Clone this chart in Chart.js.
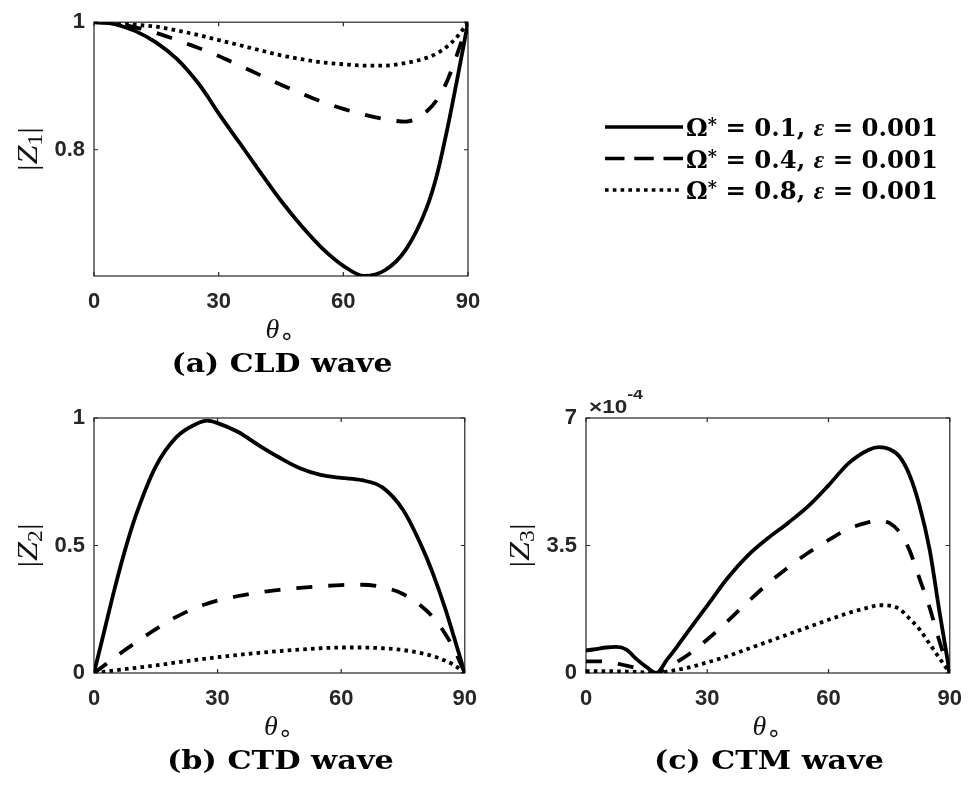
<!DOCTYPE html>
<html>
<head>
<meta charset="utf-8">
<script src="https://cdn.jsdelivr.net/npm/chart.js@4.4.0/dist/chart.umd.min.js"></script>
<style>
  html, body { margin: 0; padding: 0; background: #fff; }
  body { width: 975px; height: 785px; position: relative; overflow: hidden; }
  canvas { position: absolute; }
</style>
</head>
<body>
<canvas id="cld" width="975" height="390" style="left:0;top:0"></canvas>
<canvas id="ctd" width="490" height="395" style="left:0;top:390px"></canvas>
<canvas id="ctm" width="485" height="395" style="left:490px;top:390px"></canvas>
<script>
// incidence angle (deg) for the CLD / CTD panels
const anglesAB = [0, 2.5, 5, 7.5, 10, 15, 20, 25, 27.5, 30, 35, 40, 45, 50, 55, 60, 65, 70, 75, 80, 82.5, 85, 87.5, 90];
// |Z1|, CLD wave
const cldW1 = [1, 0.9992, 0.997, 0.992, 0.986, 0.968, 0.942, 0.905, 0.882, 0.857, 0.811, 0.765, 0.72, 0.68, 0.645, 0.618, 0.602, 0.611, 0.643, 0.708, 0.76, 0.832, 0.914, 1];
const cldW4 = [1, 0.9995, 0.998, 0.995, 0.992, 0.983, 0.972, 0.96, 0.954, 0.947, 0.932, 0.917, 0.902, 0.888, 0.875, 0.864, 0.855, 0.848, 0.844, 0.86, 0.878, 0.908, 0.952, 1];
const cldW8 = [1, 0.9998, 0.999, 0.998, 0.996, 0.993, 0.987, 0.98, 0.976, 0.972, 0.964, 0.956, 0.948, 0.942, 0.937, 0.934, 0.932, 0.932, 0.936, 0.944, 0.951, 0.962, 0.978, 1];
// |Z2|, CTD wave
const ctdW1 = [0, 0.165, 0.33, 0.48, 0.61, 0.81, 0.925, 0.978, 0.99, 0.98, 0.945, 0.893, 0.845, 0.803, 0.777, 0.765, 0.756, 0.728, 0.64, 0.48, 0.38, 0.265, 0.135, 0];
const ctdW4 = [0, 0.03, 0.06, 0.09, 0.118, 0.172, 0.22, 0.258, 0.272, 0.284, 0.302, 0.316, 0.326, 0.334, 0.34, 0.345, 0.346, 0.337, 0.31, 0.255, 0.215, 0.16, 0.09, 0];
const ctdW8 = [0, 0.005, 0.01, 0.015, 0.02, 0.03, 0.041, 0.052, 0.057, 0.062, 0.071, 0.079, 0.086, 0.092, 0.097, 0.1, 0.1, 0.097, 0.09, 0.076, 0.065, 0.05, 0.03, 0];
// |Z3|, CTM wave, in units of 1e-4
const anglesC = [0, 2.5, 5, 7.5, 10, 12.5, 15, 17.4, 20, 22.5, 25, 30, 35, 40, 45, 50, 55, 60, 65, 70, 72.5, 75, 77.5, 80, 82.5, 85, 87.5, 90];
const ctmW1 = [0.62, 0.655, 0.7, 0.715, 0.64, 0.38, 0.16, 0, 0.36, 0.72, 1.1, 1.85, 2.6, 3.22, 3.7, 4.12, 4.58, 5.15, 5.76, 6.13, 6.2, 6.15, 5.95, 5.45, 4.6, 3.4, 1.65, 0];
const ctmW4 = [0.32, 0.32, 0.31, 0.265, 0.2, 0.14, 0.075, 0, 0.13, 0.3, 0.48, 0.92, 1.42, 1.95, 2.45, 2.9, 3.3, 3.65, 3.96, 4.14, 4.18, 4.12, 3.88, 3.38, 2.6, 1.8, 0.85, 0];
const ctmW8 = [0.05, 0.05, 0.05, 0.045, 0.04, 0.03, 0.015, 0, 0.04, 0.085, 0.14, 0.29, 0.46, 0.66, 0.86, 1.06, 1.26, 1.46, 1.65, 1.8, 1.86, 1.85, 1.76, 1.5, 1.2, 0.8, 0.4, 0];

const xTicks = [0, 30, 60, 90];
const cldYTicks = [0.8, 1];
const ctdYTicks = [0, 0.5, 1];
const ctmYTicks = [0, 3.5, 7];
const omegaValues = ['0.1', '0.4', '0.8'];
const epsilonValue = '0.001';

const AXIS_COLOR = '#262626';
const TICK_LEN = 4;
const TICK_FONT = { family: '"Liberation Sans", Arial, sans-serif', size: 22, weight: 'bold' };
const lineWidths = [3.8, 3.8, 3.8];
const lineDashes = [[], [16, 16], [3.6, 4.2]];
const legendDashes = [[], [19.5, 9.75], [3.6, 4.2]];

// draws a row of text pieces with different fonts, optionally squeezed/stretched to a width
function drawRuns(ctx, runs, x, y, width, align) {
  let w = 0;
  runs.forEach(r => { ctx.font = r.font; r.w = ctx.measureText(r.t).width; w += r.w; });
  const sx = width ? width / w : 1;
  ctx.save();
  ctx.translate(align === 'left' ? x : x - w * sx / 2, y);
  ctx.scale(sx, 1);
  let cx = 0;
  runs.forEach(r => {
    ctx.font = r.font;
    ctx.fillText(r.t, cx, r.dy || 0);
    cx += r.w;
  });
  ctx.restore();
}

function drawLegend(ctx) {
  const x0 = 605, x1 = 683, top = 127, step = 31.5;
  omegaValues.forEach((om, i) => {
    const yl = top + i * step;
    ctx.save();
    ctx.strokeStyle = '#000';
    ctx.lineWidth = 3.4;
    ctx.lineCap = 'butt';
    ctx.setLineDash(legendDashes[i]);
    ctx.beginPath();
    ctx.moveTo(x0, yl);
    ctx.lineTo(x1, yl);
    ctx.stroke();
    ctx.restore();
    drawRuns(ctx, [
      { t: 'Ω', font: 'bold 25px "DejaVu Serif"' },
      { t: '*', font: 'bold 18px "DejaVu Serif"', dy: -5 },
      { t: ' = ' + om + ', ', font: 'bold 25px "DejaVu Serif"' },
      { t: 'ε', font: 'italic bold 26px "Liberation Serif"' },
      { t: ' = ' + epsilonValue, font: 'bold 25px "DejaVu Serif"' }
    ], 686, yl + 9, 252, 'left');
  });
}

const framePlugin = {
  id: 'frame',
  beforeDatasetsDraw(chart) {
    const { ctx, chartArea: a, scales: { x, y } } = chart;
    ctx.save();
    ctx.strokeStyle = AXIS_COLOR;
    ctx.lineWidth = 1.2;
    ctx.strokeRect(a.left, a.top, a.right - a.left, a.bottom - a.top);
    ctx.beginPath();
    x.ticks.forEach(t => {
      const p = x.getPixelForValue(t.value);
      ctx.moveTo(p, a.bottom); ctx.lineTo(p, a.bottom - TICK_LEN);
      ctx.moveTo(p, a.top); ctx.lineTo(p, a.top + TICK_LEN);
    });
    y.ticks.forEach(t => {
      const p = y.getPixelForValue(t.value);
      ctx.moveTo(a.left, p); ctx.lineTo(a.left + TICK_LEN, p);
      ctx.moveTo(a.right, p); ctx.lineTo(a.right - TICK_LEN, p);
    });
    ctx.stroke();
    ctx.restore();
  },
  afterDraw(chart, args, opts) {
    const { ctx, chartArea: a } = chart;
    const cx = (a.left + a.right) / 2;
    ctx.save();
    ctx.fillStyle = '#111';
    ctx.textBaseline = 'alphabetic';
    // x axis label
    drawRuns(ctx, [
      { t: 'θ', font: 'italic 28px "Liberation Serif"' },
      { t: '∘', font: '24px "DejaVu Sans"', dy: 6 }
    ], cx - 1, a.bottom + 62);
    // y axis label, rotated
    ctx.save();
    ctx.translate(a.left - 57, (a.top + a.bottom) / 2);
    ctx.rotate(-Math.PI / 2);
    drawRuns(ctx, [
      { t: '|', font: '28px "Liberation Serif"' },
      { t: 'Z', font: 'italic 29px "Liberation Serif"' },
      { t: opts.sub, font: '20px "Liberation Serif"', dy: 5 },
      { t: '|', font: '28px "Liberation Serif"' }
    ], 0, 0, 44);
    ctx.restore();
    // caption under the panel
    ctx.fillStyle = '#000';
    drawRuns(ctx, [{ t: opts.caption, font: 'bold 26px "DejaVu Serif"' }], cx + 1, a.bottom + 96, opts.captionWidth);
    if (opts.exponent) {
      ctx.fillStyle = AXIS_COLOR;
      drawRuns(ctx, [
        { t: '×10', font: 'bold 19px "Liberation Sans"' },
        { t: opts.exponent, font: 'bold 15px "Liberation Sans"', dy: -14 }
      ], a.left + 3, a.top - 5, 54, 'left');
    }
    if (opts.legend) drawLegend(ctx);
    ctx.restore();
  }
};

function buildPanel(id, angles, series, yMin, yMax, yTicks, box, deco) {
  return new Chart(document.getElementById(id), {
    type: 'line',
    data: {
      datasets: series.map((vals, i) => ({
        label: 'Ω* = ' + omegaValues[i],
        data: angles.map((a, k) => ({ x: a, y: vals[k] })),
        borderColor: '#000',
        borderWidth: lineWidths[i],
        borderDash: lineDashes[i],
        borderCapStyle: 'butt',
        borderJoinStyle: 'round',
        pointRadius: 0,
        cubicInterpolationMode: 'monotone',
        fill: false
      }))
    },
    options: {
      responsive: false,
      animation: false,
      events: [],
      layout: { padding: { left: 0, top: box.top, right: box.right, bottom: 0 } },
      plugins: { legend: { display: false }, tooltip: { enabled: false }, frame: deco },
      scales: {
        x: {
          type: 'linear', min: 0, max: 90,
          afterBuildTicks: s => { s.ticks = xTicks.map(v => ({ value: v })); },
          afterFit: s => { s.height = box.xHeight; },
          ticks: { padding: 13, font: TICK_FONT, color: AXIS_COLOR, callback: v => String(v) },
          grid: { display: false, drawTicks: false },
          border: { display: false }
        },
        y: {
          type: 'linear', min: yMin, max: yMax,
          afterBuildTicks: s => { s.ticks = yTicks.map(v => ({ value: v })); },
          afterFit: s => { s.width = box.yWidth; },
          ticks: { padding: 9, font: TICK_FONT, color: AXIS_COLOR, callback: v => String(v) },
          grid: { display: false, drawTicks: false },
          border: { display: false }
        }
      }
    },
    plugins: [framePlugin]
  });
}

buildPanel('cld', anglesAB, [cldW1, cldW4, cldW8], 0.602, 1, cldYTicks,
  { top: 18, right: 507, xHeight: 114, yWidth: 94 },
  { sub: '1', caption: '(a) CLD wave', captionWidth: 221, legend: true });
buildPanel('ctd', anglesAB, [ctdW1, ctdW4, ctdW8], 0, 1, ctdYTicks,
  { top: 28, right: 22, xHeight: 112, yWidth: 94 },
  { sub: '2', caption: '(b) CTD wave', captionWidth: 227 });
buildPanel('ctm', anglesC, [ctmW1, ctmW4, ctmW8], 0, 7, ctmYTicks,
  { top: 28, right: 13, xHeight: 112, yWidth: 96 },
  { sub: '3', caption: '(c) CTM wave', captionWidth: 230, exponent: '-4' });
</script>
</body>
</html>
